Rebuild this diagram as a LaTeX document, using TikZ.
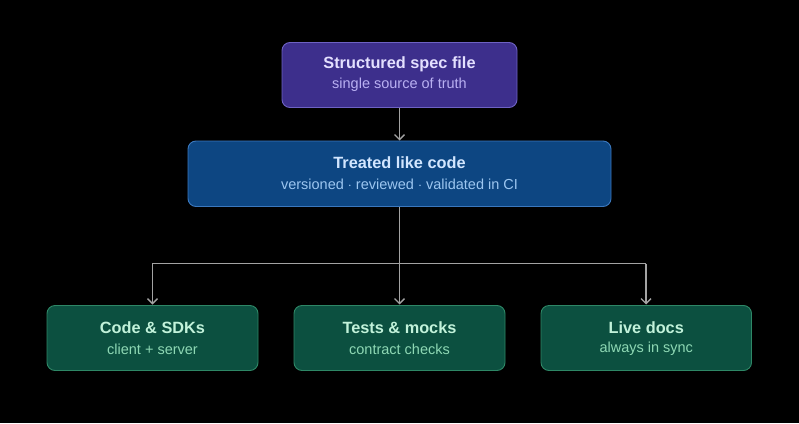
\documentclass[tikz,border=0pt]{standalone}
\usepackage{fontspec}
\setmainfont{Liberation Sans}
\usetikzlibrary{arrows.meta}
\definecolor{bg}{HTML}{000000}
\definecolor{pfill}{HTML}{3D2F8C}
\definecolor{pdraw}{HTML}{6E62C4}
\definecolor{ptitle}{HTML}{E4E0FF}
\definecolor{psub}{HTML}{B9B0F2}
\definecolor{bfill}{HTML}{0D4682}
\definecolor{bdraw}{HTML}{3B78BE}
\definecolor{btitle}{HTML}{D2E6FF}
\definecolor{bsub}{HTML}{9CC6F0}
\definecolor{gfill}{HTML}{0C5040}
\definecolor{gdraw}{HTML}{2E8766}
\definecolor{gtitle}{HTML}{C2F2DA}
\definecolor{gsub}{HTML}{8ED8B4}
\definecolor{conn}{HTML}{A3A3A3}
\tikzset{
  x=1pt,y=-1pt,
  boxstyle/.style={rounded corners=8pt, line width=0.9pt},
  titletext/.style={font=\fontsize{16.3}{19}\selectfont\bfseries},
  subtext/.style={font=\fontsize{14.5}{17}\selectfont},
  connector/.style={draw=conn, line width=1.3pt, -{Straight Barb[length=5pt,width=10pt,line width=1.3pt]}},
  plain/.style={draw=conn, line width=1.3pt},
}
\begin{document}
\begin{tikzpicture}
\fill[bg] (0,0) rectangle (799,423);
\useasboundingbox (0,0) rectangle (799,423);
% boxes
\draw[boxstyle, fill=pfill, draw=pdraw] (282,42.5) rectangle (517,107.5);
\node[titletext, text=ptitle] (t1) at (399.5,64) {Structured spec file};
\node[subtext, text=psub] (s1) at (399.5,85) {single source of truth};
\coordinate (topb) at (399.5,108);

\draw[boxstyle, fill=bfill, draw=bdraw] (188,141) rectangle (611,206.5);
\node[titletext, text=btitle] (t2) at (399.5,163) {Treated like code};
\node[subtext, text=bsub] (s2) at (399.5,184) {versioned $\cdot$ reviewed $\cdot$ validated in CI};
\coordinate (midt) at (399.5,140.5);
\coordinate (midb) at (399.5,207);

\foreach \xl/\xr/\nm/\ti/\su in {47/258/a/{Code \& SDKs}/{client + server},
                                  294/505/b/{Tests \& mocks}/{contract checks},
                                  541/751.5/c/{Live docs}/{always in sync}}{
  \draw[boxstyle, fill=gfill, draw=gdraw] (\xl,305.5) rectangle (\xr,370.5);
  \node[titletext, text=gtitle] (t\nm) at ({(\xl+\xr)/2},328) {\ti};
  \node[subtext, text=gsub] (s\nm) at ({(\xl+\xr)/2},349) {\su};
}
\coordinate (ta) at (152.5,304.5);
\coordinate (tb) at (399.5,304.5);
\coordinate (tc) at (646,304.5);
\coordinate (hl) at (152.5,263.5);
\coordinate (hr) at (646,263.5);
% connectors
\draw[connector] (topb) -- (midt);
\draw[plain] (midb) -- (399.5,263.5);
\draw[connector] (399.5,263.5) -- (tb);
\draw[connector, rounded corners=0pt] (hr) -- (hl) -- (ta);
\draw[connector] (hr) -- (tc);
\end{tikzpicture}
\end{document}
